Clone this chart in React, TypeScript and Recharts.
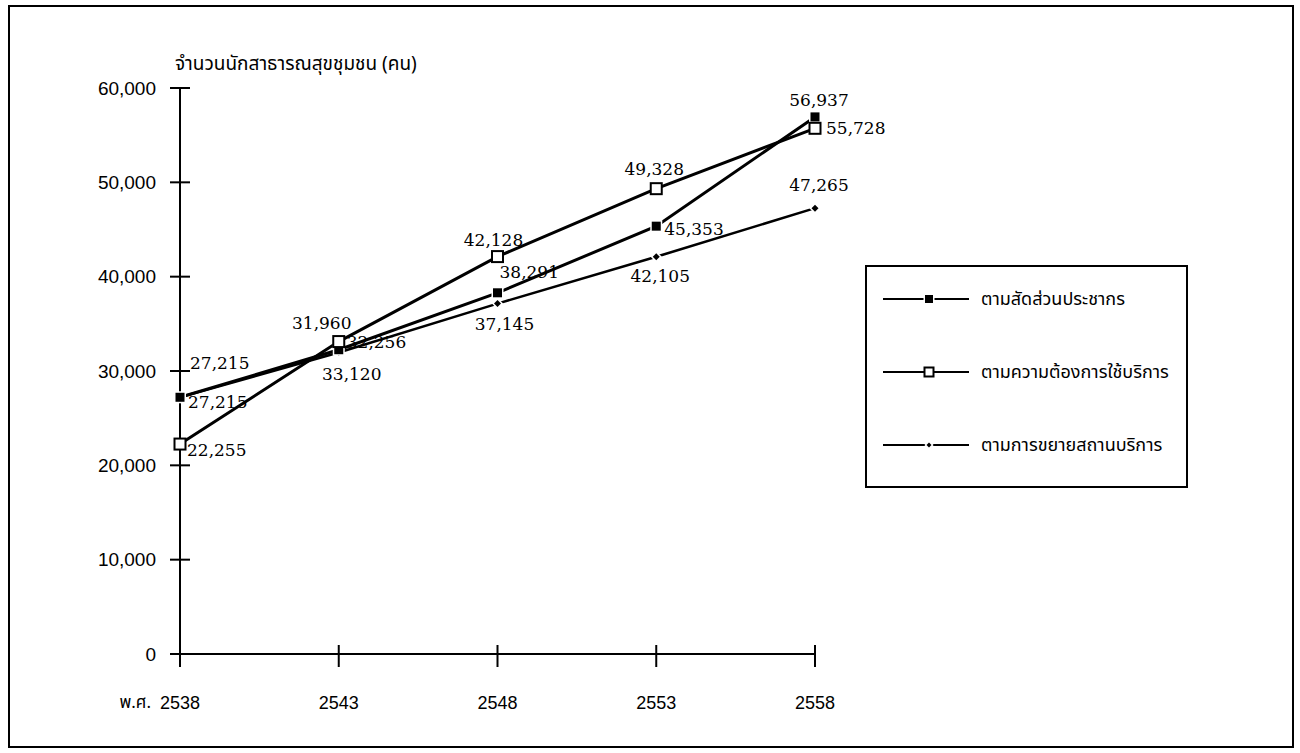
import React from 'react';
import { LineChart, Line, XAxis, YAxis } from 'recharts';

const years = ['2538', '2543', '2548', '2553', '2558'];
const byPopulation = [27215, 32256, 38291, 45353, 56937];
const byServiceDemand = [22255, 33120, 42128, 49328, 55728];
const byFacilityExpansion = [27215, 31960, 37145, 42105, 47265];

// value labels as printed on the source (the 2543 pair is printed crosswise)
const byPopulationText = ['27,215', '32,256', '38,291', '45,353', '56,937'];
const byServiceDemandText = ['22,255', '31,960', '42,128', '49,328', '55,728'];
const byFacilityExpansionText = ['27,215', '33,120', '37,145', '42,105', '47,265'];

const yTicks = [0, 10000, 20000, 30000, 40000, 50000, 60000];
const seriesNames = ['ตามสัดส่วนประชากร', 'ตามความต้องการใช้บริการ', 'ตามการขยายสถานบริการ'];
const yTitle = 'จำนวนนักสาธารณสุขชุมชน (คน)';
const yearPrefix = 'พ.ศ.';

const data = years.map((year, i) => ({
  year,
  population: byPopulation[i],
  demand: byServiceDemand[i],
  expansion: byFacilityExpansion[i],
}));

// where each value label sits relative to its point: [dx, dy, anchor]
type Place = [number, number, 'start' | 'middle' | 'end'];
const populationPlace: Place[] = [[10, -34, 'start'], [8, -8, 'start'], [2, -21, 'start'], [8, 3, 'start'], [4, -17, 'middle']];
const demandPlace: Place[] = [[7, 6, 'start'], [-17, -19, 'middle'], [-4, -17, 'middle'], [-2, -20, 'middle'], [11, 0, 'start']];
const expansionPlace: Place[] = [[8, 5, 'start'], [13, 21, 'middle'], [7, 20, 'middle'], [4, 19, 'middle'], [4, -23, 'middle']];

const THAI = "'Noto Sans Thai', 'Noto Sans', 'DejaVu Sans', sans-serif";
const NUM = "'Liberation Sans', Arial, sans-serif";
const LABEL = "'DejaVu Serif', 'Liberation Serif', serif";

function makeLabel(texts: string[], places: Place[]) {
  return (props: any) => {
    const { x, y, index } = props;
    const [dx, dy, anchor] = places[index];
    return (
      <text
        key={`lbl-${index}`}
        x={x + dx}
        y={y + dy}
        textAnchor={anchor}
        dominantBaseline="central"
        fontFamily={LABEL}
        fontSize={17}
        fill="#000"
      >
        {texts[index]}
      </text>
    );
  };
}

function FilledSquare({ cx, cy, size = 9 }: any) {
  if (cx == null || cy == null) return null;
  return <rect x={cx - size / 2} y={cy - size / 2} width={size} height={size} fill="#000" stroke="#fff" strokeWidth={3} paintOrder="stroke" />;
}

function OpenSquare({ cx, cy, size = 11 }: any) {
  if (cx == null || cy == null) return null;
  return <rect x={cx - size / 2} y={cy - size / 2} width={size} height={size} fill="#fff" stroke="#000" strokeWidth={2} />;
}

function Diamond({ cx, cy, size = 7 }: any) {
  if (cx == null || cy == null) return null;
  const r = size / 2;
  return (
    <path
      d={`M${cx},${cy - r} L${cx + r},${cy} L${cx},${cy + r} L${cx - r},${cy} Z`}
      fill="#000"
      stroke="#fff"
      strokeWidth={3}
      paintOrder="stroke"
    />
  );
}

function YTick({ x, y, payload }: any) {
  return (
    <g>
      <line x1={x - 10} x2={x + 10} y1={y} y2={y} stroke="#000" strokeWidth={2} />
      <text x={x - 24} y={y} textAnchor="end" dominantBaseline="central" fontFamily={NUM} fontSize={19} fill="#000">
        {Number(payload.value).toLocaleString('en-US')}
      </text>
    </g>
  );
}

function XTick({ x, y, payload, index }: any) {
  return (
    <g>
      <line x1={x} x2={x} y1={y - 9} y2={y + 13} stroke="#000" strokeWidth={2} />
      {index === 0 && (
        <text x={x - 29} y={y + 49} textAnchor="end" dominantBaseline="central" fontFamily={THAI} fontSize={17} fill="#000">
          {yearPrefix}
        </text>
      )}
      <text x={x} y={y + 49} textAnchor="middle" dominantBaseline="central" fontFamily={NUM} fontSize={18} fill="#000">
        {payload.value}
      </text>
    </g>
  );
}

const legendMarkers = [
  (cx: number, cy: number) => <FilledSquare cx={cx} cy={cy} size={8} />,
  (cx: number, cy: number) => <OpenSquare cx={cx} cy={cy} size={9} />,
  (cx: number, cy: number) => <Diamond cx={cx} cy={cy} size={5} />,
];

function LegendBox() {
  return (
    <div
      style={{
        position: 'absolute',
        left: 865,
        top: 265,
        width: 323,
        height: 223,
        border: '2px solid #000',
        boxSizing: 'border-box',
        background: '#fff',
      }}
    >
      {seriesNames.map((name, i) => (
        <div
          key={name}
          style={{ position: 'absolute', left: 16, top: 21 + i * 73, height: 22, display: 'flex', alignItems: 'center' }}
        >
          <svg width={86} height={22}>
            <line x1={0} x2={86} y1={11} y2={11} stroke="#000" strokeWidth={2} />
            {legendMarkers[i](46, 11)}
          </svg>
          <span style={{ marginLeft: 12, fontFamily: THAI, fontSize: 18, color: '#000', whiteSpace: 'nowrap' }}>{name}</span>
        </div>
      ))}
    </div>
  );
}

export default function App() {
  return (
    <div style={{ position: 'absolute', left: 0, top: 0, width: 1300, height: 753, background: '#fff' }}>
      <LineChart width={1300} height={753} data={data} margin={{ top: 88, right: 485, bottom: 69, left: 120 }}>
        <XAxis
          dataKey="year"
          height={30}
          tickSize={0}
          tickMargin={0}
          axisLine={{ stroke: '#000', strokeWidth: 2 }}
          tickLine={false}
          tick={<XTick />}
          interval={0}
        />
        <YAxis
          width={60}
          domain={[0, 60000]}
          ticks={yTicks}
          tickSize={0}
          tickMargin={0}
          axisLine={{ stroke: '#000', strokeWidth: 2 }}
          tickLine={false}
          tick={<YTick />}
          interval={0}
        />
        <Line
          dataKey="expansion"
          name={seriesNames[2]}
          stroke="#000"
          strokeWidth={2.5}
          dot={<Diamond />}
          label={makeLabel(byFacilityExpansionText, expansionPlace)}
          isAnimationActive={false}
        />
        <Line
          dataKey="population"
          name={seriesNames[0]}
          stroke="#000"
          strokeWidth={3}
          dot={<FilledSquare />}
          label={makeLabel(byPopulationText, populationPlace)}
          isAnimationActive={false}
        />
        <Line
          dataKey="demand"
          name={seriesNames[1]}
          stroke="#000"
          strokeWidth={3}
          dot={<OpenSquare />}
          label={makeLabel(byServiceDemandText, demandPlace)}
          isAnimationActive={false}
        />
      </LineChart>
      <LegendBox />
      <div style={{ position: 'absolute', left: 175, top: 50, fontFamily: THAI, fontSize: 19, color: '#000', whiteSpace: 'nowrap' }}>
        {yTitle}
      </div>
      <div
        style={{
          position: 'absolute',
          left: 8,
          top: 5,
          width: 1286,
          height: 743,
          border: '2px solid #000',
          boxSizing: 'border-box',
          pointerEvents: 'none',
        }}
      />
    </div>
  );
}
